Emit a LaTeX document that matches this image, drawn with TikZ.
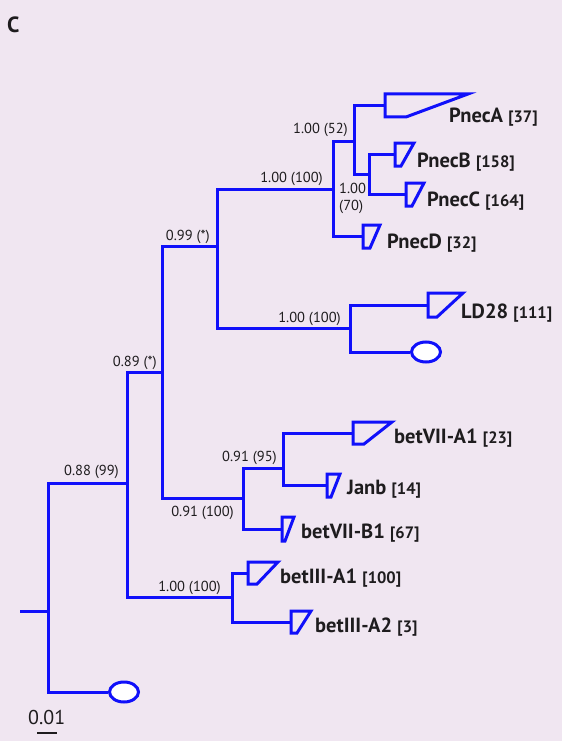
\documentclass[tikz,border=0pt]{standalone}
\usepackage{fontspec}
\setmainfont{PT Sans}
\usetikzlibrary{shapes.geometric}
\definecolor{bg}{RGB}{240,230,241}
\definecolor{tree}{RGB}{16,16,250}
\definecolor{ink}{RGB}{30,28,30}
\newcommand\taxon[2]{#1 {\fontsize{16.5}{18}\selectfont #2}}
\newcommand\clade[6]{% name, x, ytop, ybot, xtopright, xbotright
  \draw[br] (#2,#3) -- (#5,#3) -- (#6,#4) -- (#2,#4) -- cycle;
  \coordinate (#1) at (#2,{(#3+#4)/2});}
\begin{document}
\begin{tikzpicture}[x=1pt,y=-1pt,
  br/.style={draw=tree,line width=3pt,line join=miter},
  leafend/.style={ellipse,draw=tree,fill=white,line width=3pt,minimum width=29pt,minimum height=20pt,inner sep=0},
  sup/.style={font=\fontsize{14.5}{17}\selectfont,text=ink,inner sep=0},
  tax/.style={font=\bfseries\fontsize{20.5}{23}\selectfont,text=ink,inner sep=0,anchor=base west}]
\fill[bg] (0,0) rectangle (562,741);
\useasboundingbox (0,0) rectangle (562,741);
% internal nodes
\coordinate (s) at (20,611);
\coordinate (r) at (48,611);
\coordinate (a) at (127,483);
\coordinate (b) at (162,372);
\coordinate (c) at (217,246);
\coordinate (d) at (333,189);
\coordinate (e) at (354,141);
\coordinate (f) at (369,174);
\coordinate (g) at (350,328);
\coordinate (h) at (243,498);
\coordinate (i) at (283,468);
\coordinate (j) at (232,597);
% clades
\clade{pA}{385}{94}{117}{468}{406}
\clade{pB}{395}{143}{166}{414}{401}
\clade{pC}{406}{183}{206}{424}{412}
\clade{pD}{363}{225}{248}{380}{370}
\clade{ld}{428}{293}{317}{463}{437}
\clade{v1}{353}{422}{444}{392}{364}
\clade{jb}{327}{474}{497}{340}{331}
\clade{vb}{282}{517}{541}{294}{285}
\clade{t1}{248}{562}{584}{278}{257}
\clade{t2}{291}{611}{633}{311}{297}
\node[leafend] (o1) at (124,692) {};
\node[leafend] (o2) at (426,352) {};
% branches
\draw[br] (s) -- (r);
\draw[br] (r) |- (a);
\draw[br] (r) |- (o1.west);
\draw[br] (a) |- (b);
\draw[br] (a) |- (j);
\draw[br] (b) |- (c);
\draw[br] (b) |- (h);
\draw[br] (c) |- (d);
\draw[br] (c) |- (g);
\draw[br] (d) |- (e);
\draw[br] (d) |- (pD);
\draw[br] (e) |- (pA);
\draw[br] (e) |- (f);
\draw[br] (f) |- (pB);
\draw[br] (f) |- (pC);
\draw[br] (g) |- (ld);
\draw[br] (g) |- (o2.west);
\draw[br] (h) |- (i);
\draw[br] (h) |- (vb);
\draw[br] (i) |- (v1);
\draw[br] (i) |- (jb);
\draw[br] (j) |- (t1);
\draw[br] (j) |- (t2);
% support values
\node[sup,anchor=base east] (l1) at (348,133) {1.00 (52)};
\node[sup,anchor=north west,align=left] (l2) at (339,183) {1.00\\(70)};
\node[sup,anchor=base east] (l3) at (323,182) {1.00 (100)};
\node[sup,anchor=base east] (l4) at (341,322) {1.00 (100)};
\node[sup,anchor=base east] (l5) at (210,240) {0.99 (*)};
\node[sup,anchor=base east] (l6) at (157,366) {0.89 (*)};
\node[sup,anchor=base east] (l7) at (277,461) {0.91 (95)};
\node[sup,anchor=base east] (l8) at (234,516) {0.91 (100)};
\node[sup,anchor=base east] (l9) at (119,475) {0.88 (99)};
\node[sup,anchor=base east] (l10) at (221,591) {1.00 (100)};
% taxa
\node[tax] (nA) at (449,122) {\taxon{PnecA}{[37]}};
\node[tax] (nB) at (417,167) {\taxon{PnecB}{[158]}};
\node[tax] (nC) at (427,206) {\taxon{PnecC}{[164]}};
\node[tax] (nD) at (387,248) {\taxon{PnecD}{[32]}};
\node[tax] (nL) at (461,318) {\taxon{LD28}{[111]}};
\node[tax] (nV1) at (394,443) {\taxon{betVII-A1}{[23]}};
\node[tax] (nJ) at (347,494) {\taxon{Janb}{[14]}};
\node[tax] (nVB) at (301,538) {\taxon{betVII-B1}{[67]}};
\node[tax] (nT1) at (280,583) {\taxon{betIII-A1}{[100]}};
\node[tax] (nT2) at (315,632) {\taxon{betIII-A2}{[3]}};
% panel letter and scale
\node[inner sep=0,anchor=base west,text=ink,font=\bfseries\fontsize{22}{24}\selectfont] (C) at (7,33) {C};
\node[inner sep=0,anchor=base west,text=ink,font=\fontsize{20}{22}\selectfont] (sc) at (28,724) {0.01};
\coordinate (sb1) at (37,733);
\coordinate (sb2) at (57,733);
\draw[draw=ink,line width=2.5pt] (sb1) -- (sb2);
\end{tikzpicture}
\end{document}
